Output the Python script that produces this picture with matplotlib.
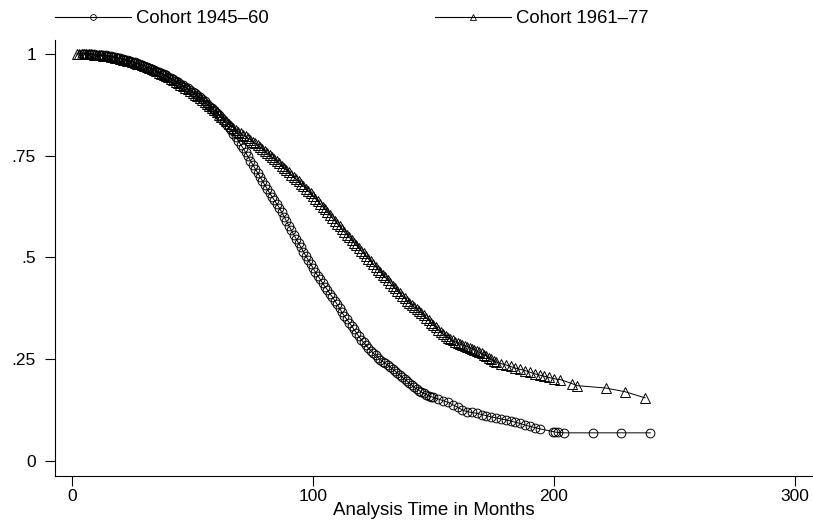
import matplotlib
matplotlib.use("Agg")
import matplotlib.pyplot as plt
from matplotlib.lines import Line2D

plt.rcParams['font.family'] = ['Liberation Sans', 'DejaVu Sans']

# Cohort 1945-60 (circles): analysis time in months and survivor function
t_old = list(range(4, 151)) + [152, 154, 156, 158, 160, 162, 164, 166, 168, 170,
                               172, 174, 176, 178, 180, 182, 184, 186, 188, 190,
                               192, 194, 199.6, 200.5, 201.5, 204, 216, 228, 240]
s_old = [1.0, 1.0, 1.0, 1.0, 0.999, 0.999,                                # 4-9
         0.998, 0.998, 0.997, 0.996, 0.996, 0.995, 0.994, 0.993, 0.992, 0.990,
         0.989, 0.987, 0.986, 0.984, 0.983, 0.981, 0.979, 0.977, 0.975, 0.973,
         0.971, 0.968, 0.966, 0.963, 0.961, 0.958, 0.956, 0.953, 0.950, 0.947,
         0.944, 0.940, 0.937, 0.934, 0.930, 0.926, 0.923, 0.919, 0.915, 0.911,
         0.907, 0.903, 0.898, 0.893, 0.888, 0.883, 0.877, 0.872, 0.866, 0.861,
         0.855, 0.849, 0.843, 0.836, 0.828, 0.820, 0.812, 0.804, 0.795, 0.786,
         0.777, 0.768, 0.758, 0.748, 0.738, 0.728, 0.718, 0.708, 0.698, 0.688,
         0.678, 0.668, 0.658, 0.649, 0.640, 0.631, 0.622, 0.611, 0.600, 0.589,
         0.578, 0.567, 0.556, 0.546, 0.535, 0.525, 0.514, 0.504, 0.494, 0.484,
         0.474, 0.464, 0.455, 0.446, 0.437, 0.428, 0.420, 0.411, 0.403, 0.394,
         0.385, 0.375, 0.365, 0.356, 0.348, 0.340, 0.332, 0.323, 0.315, 0.306,
         0.298, 0.291, 0.284, 0.277, 0.271, 0.265, 0.259, 0.254, 0.249, 0.244,
         0.240, 0.235, 0.231, 0.226, 0.221, 0.216, 0.211, 0.206, 0.201, 0.196,
         0.191, 0.186, 0.181, 0.177, 0.173, 0.169, 0.166, 0.163, 0.160, 0.158,
         0.156,                                                           # 150
         0.152, 0.148, 0.144, 0.138, 0.132, 0.125, 0.121, 0.119, 0.117, 0.114,
         0.111, 0.108, 0.106, 0.103, 0.101, 0.098, 0.095, 0.092, 0.088, 0.085,
         0.082, 0.079, 0.072, 0.071, 0.070, 0.069, 0.069, 0.069, 0.069]

# Cohort 1961-77 (triangles)
t_new = list(range(2, 177)) + [178, 180, 182, 184, 186, 188, 190, 192, 194, 196,
                               198, 200, 202.5, 207.5, 209.5, 221.6, 229.5, 237.8]
s_new = [1.0, 1.0, 1.0, 1.0, 1.0, 0.999, 0.999, 0.998,                    # 2-9
         0.998, 0.997, 0.996, 0.995, 0.995, 0.994, 0.993, 0.992, 0.991, 0.989,
         0.988, 0.986, 0.985, 0.983, 0.982, 0.980, 0.978, 0.976, 0.974, 0.972,
         0.970, 0.967, 0.965, 0.962, 0.960, 0.957, 0.954, 0.951, 0.948, 0.945,
         0.942, 0.938, 0.935, 0.931, 0.928, 0.924, 0.921, 0.917, 0.913, 0.909,
         0.905, 0.900, 0.896, 0.891, 0.887, 0.882, 0.877, 0.871, 0.866, 0.861,
         0.856, 0.850, 0.845, 0.839, 0.834, 0.828, 0.823, 0.818, 0.813, 0.809,
         0.805, 0.801, 0.797, 0.793, 0.789, 0.784, 0.780, 0.775, 0.771, 0.766,
         0.761, 0.756, 0.751, 0.746, 0.741, 0.736, 0.731, 0.725, 0.720, 0.714,
         0.709, 0.703, 0.698, 0.692, 0.687, 0.681, 0.675, 0.669, 0.663, 0.657,
         0.651, 0.644, 0.638, 0.631, 0.625, 0.618, 0.611, 0.604, 0.597, 0.590,
         0.583, 0.576, 0.569, 0.562, 0.556, 0.549, 0.543, 0.536, 0.530, 0.523,
         0.516, 0.510, 0.503, 0.496, 0.490, 0.483, 0.477, 0.470, 0.464, 0.457,
         0.451, 0.444, 0.437, 0.430, 0.424, 0.418, 0.412, 0.406, 0.400, 0.394,
         0.389, 0.383, 0.378, 0.373, 0.368, 0.363, 0.358, 0.352, 0.346, 0.340,
         0.334, 0.328, 0.322, 0.317, 0.312, 0.307, 0.303, 0.299, 0.296, 0.293,
         0.290, 0.287, 0.285, 0.283, 0.281, 0.278, 0.276, 0.273, 0.270, 0.267,
         0.264, 0.261, 0.258, 0.254, 0.250, 0.246, 0.243,                 # 170-176
         0.239, 0.236, 0.232, 0.228, 0.225, 0.222, 0.218, 0.214, 0.211, 0.208,
         0.205, 0.202, 0.200, 0.190, 0.185, 0.179, 0.170, 0.155]

xticks = [0, 100, 200, 300]
yticks = [0, 0.25, 0.5, 0.75, 1]
yticklabels = ['0', '.25', '.5', '.75', '1']

fig = plt.figure(figsize=(8.13, 5.21), dpi=100)
ax = fig.add_axes([0.0677, 0.0864, 0.9323, 0.8368])

ax.plot(t_old, s_old, color='black', lw=0.7, marker='o', ms=6.3, mfc='none',
        mec='black', mew=0.7)
ax.plot(t_new, s_new, color='black', lw=0.7, marker='^', ms=6.8, mfc='none',
        mec='black', mew=0.7)

ax.set_xlim(-7.05, 307.5)
ax.set_ylim(-0.037, 1.034)
ax.set_xticks(xticks)
ax.set_yticks(yticks)
ax.set_yticklabels(yticklabels)
ax.tick_params(axis='both', direction='out', length=7.2, width=0.8, labelsize=12.5)
ax.tick_params(axis='y', pad=6.5)
ax.tick_params(axis='x', pad=2)
for side in ['top', 'right']:
    ax.spines[side].set_visible(False)
for side in ['left', 'bottom']:
    ax.spines[side].set_linewidth(0.8)
ax.set_xlabel('Analysis Time in Months', fontsize=13.5, labelpad=-1)

handles = [
    Line2D([], [], color='black', lw=0.8, marker='o', ms=4.2, mfc='none', mew=0.6),
    Line2D([], [], color='black', lw=0.8, marker='^', ms=4.2, mfc='none', mew=0.6),
]
fig.legend(handles, ['Cohort 1945\u201360', 'Cohort 1961\u201377'], ncol=2,
           loc='upper left', bbox_to_anchor=(0.047, 1.012), frameon=False,
           fontsize=13.3, handlelength=4.1, handletextpad=0.3, columnspacing=9.0)

fig.savefig('out.png', dpi=100)
